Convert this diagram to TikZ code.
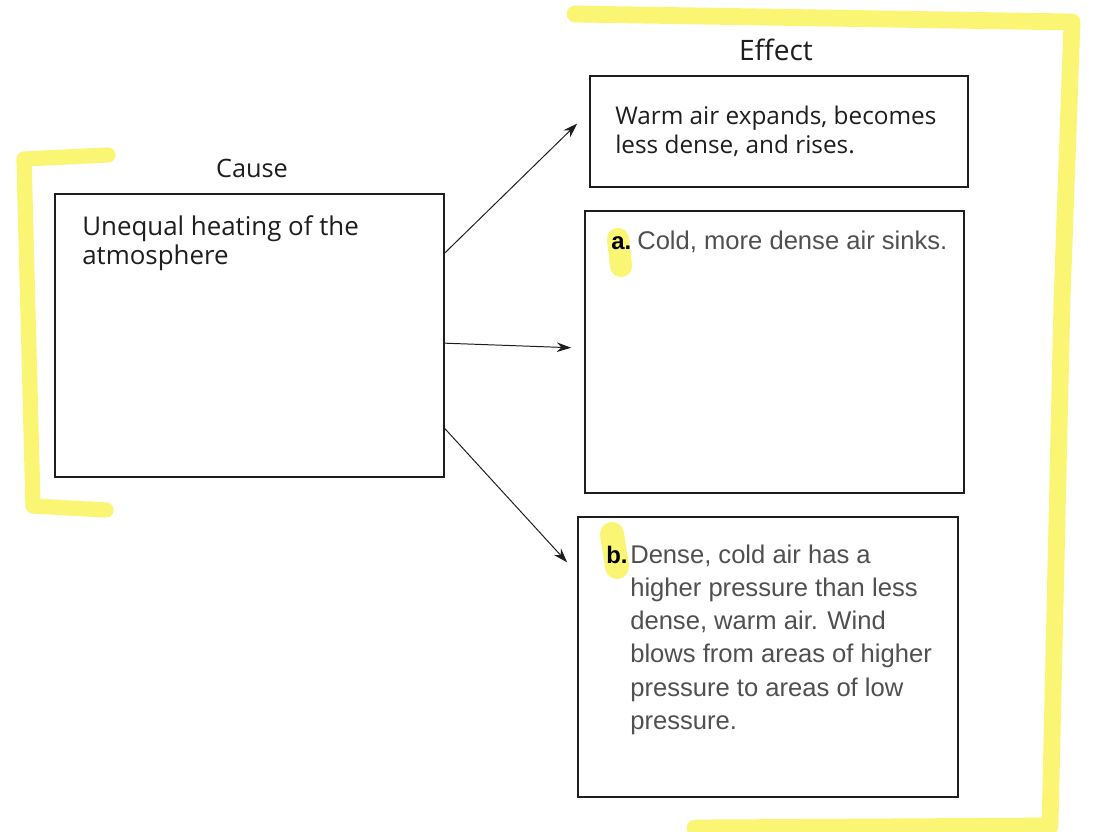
\documentclass[tikz,border=0pt]{standalone}
\usepackage{fontspec}
\setmainfont{Open Sans}
\newfontfamily\helv{Liberation Sans}
\usetikzlibrary{arrows.meta,calc}
\definecolor{hl}{RGB}{250,244,90}
\definecolor{ink}{RGB}{30,30,30}
\definecolor{grayink}{RGB}{80,80,80}
\begin{document}
\begin{tikzpicture}[x=0.025cm,y=-0.025cm,
  box/.style={draw=ink, line width=1.1pt, inner sep=0pt},
  head/.style={text=ink, inner sep=0pt},
  body/.style={text=ink, inner sep=0pt, anchor=base west},
  hbody/.style={font=\helv\fontsize{18.2pt}{23.7pt}\selectfont, text=grayink, inner sep=0pt, anchor=base west},
  tag/.style={font=\helv\bfseries\fontsize{17pt}{23.7pt}\selectfont, text=black, inner sep=0pt, anchor=base west},
  marker/.style={draw=hl, line cap=round, line join=round, opacity=0.85},
  conn/.style={draw=ink, line width=0.7pt, -{Stealth[length=3.6mm,width=2.4mm]}}]
\useasboundingbox[fill=white] (0,0) rectangle (1096,832);

% highlighter marks
\draw[marker, line width=0.38cm] (108,155) -- (24,159) -- (33,506) -- (106,510);
\draw[marker, line width=0.42cm] (575,14) -- (1072,22) -- (1062,300) -- (1050,826) -- (695,828);
\draw[marker, line width=0.55cm] (618,239) -- (621,266);
\draw[marker, line width=0.6cm] (612,534) -- (617,567);

% boxes
\node[box, minimum width=9.725cm, minimum height=7.075cm] (cause) at (249.5,335.5) {};
\node[box, minimum width=9.45cm, minimum height=2.775cm] (eff1) at (779,131.5) {};
\node[box, minimum width=9.475cm, minimum height=7.05cm] (eff2) at (774.5,352) {};
\node[box, minimum width=9.5cm, minimum height=7.0cm] (eff3) at (768,657) {};

% headings
\node[head, font=\fontsize{18pt}{20pt}\selectfont] (causelbl) at (252,168) {Cause};
\node[head, font=\fontsize{20pt}{22pt}\selectfont] (efflbl) at (776,50) {Effect};

% texts
\node[body, font=\fontsize{18.4pt}{20pt}\selectfont] (causetxt) at (82,236) {\vtop{\hbox{Unequal heating of the}\hbox{atmosphere}}};
\node[body, font=\fontsize{17.3pt}{20.5pt}\selectfont] (eff1txt) at (615,125) {\vtop{\hbox{Warm air expands, becomes}\hbox{less dense, and rises.}}};
\node[tag] (taga) at (611,250) {a.};
\node[hbody] (eff2txt) at (637,250) {Cold, more dense air sinks.};
\node[tag] (tagb) at (606,563) {b.};
\node[hbody] (eff3txt) at (630,563) {\vtop{\hbox{Dense, cold air has a}\hbox{higher pressure than less}\hbox{dense, warm air. Wind}\hbox{blows from areas of higher}\hbox{pressure to areas of low}\hbox{pressure.}}};

% connectors
\coordinate (s1) at ($(cause.north east)!0.21!(cause.south east)$);
\coordinate (s2) at ($(cause.north east)!0.527!(cause.south east)$);
\coordinate (s3) at ($(cause.north east)!0.827!(cause.south east)$);
\coordinate (e1) at ($(eff1.north west)!0.43!(eff1.south west)+(-12,0)$);
\coordinate (e2) at ($(eff2.north west)!0.485!(eff2.south west)+(-13,0)$);
\coordinate (e3) at ($(eff3.north west)!0.164!(eff3.south west)+(-10,0)$);
\draw[conn] (s1) -- (e1);
\draw[conn] (s2) -- (e2);
\draw[conn] (s3) -- (e3);
\end{tikzpicture}
\end{document}
